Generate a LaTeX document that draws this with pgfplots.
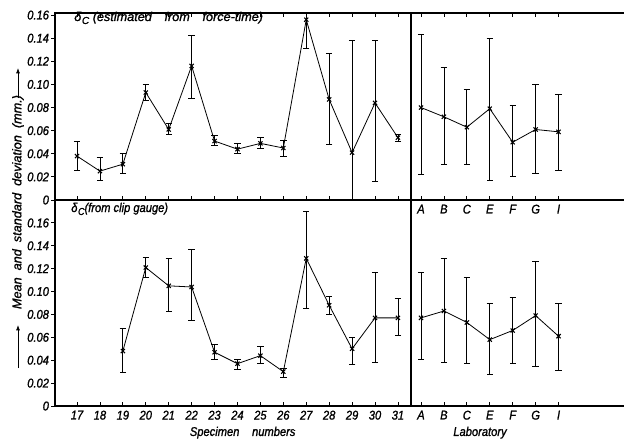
\documentclass[border=0pt]{standalone}
\usepackage{fontspec}
\setmainfont{Liberation Sans}[FakeStretch=0.88, FakeBold=1.2]
\newfontfamily\wide{Liberation Sans}[FakeBold=1.2]
\usepackage{pgfplots}
\pgfplotsset{compat=1.18}
\usepackage{pgfplotstable}
\usetikzlibrary{arrows.meta}

% columns: x, mean, error up, error down (mm)
\pgfplotstableread{
x y ep em
17 0.038 0.013 0.012
18 0.025 0.012 0.008
19 0.031 0.009 0.008
20 0.093 0.007 0.007
21 0.061 0.005 0.004
22 0.116 0.026 0.028
23 0.051 0.005 0.004
24 0.044 0.005 0.004
25 0.049 0.005 0.004
26 0.045 0.007 0.007
27 0.156 0.025 0.025
28 0.087 0.040 0.039
29 0.041 0.097 0.097
30 0.084 0.054 0.068
31 0.054 0.003 0.003
}\forcespec
\pgfplotstableread{
x y ep em
0 0.080 0.063 0.058
1 0.072 0.043 0.041
2 0.063 0.033 0.032
3 0.079 0.061 0.062
4 0.050 0.032 0.030
5 0.061 0.039 0.038
6 0.059 0.032 0.033
}\forcelab
\pgfplotstableread{
x y ep em
19 0.048 0.020 0.019
20 0.121 0.009 0.009
21 0.105 0.024 0.022
22 0.104 0.033 0.029
23 0.047 0.007 0.006
24 0.037 0.004 0.005
25 0.044 0.008 0.007
26 0.030 0.003 0.005
27 0.129 0.041 0.044
28 0.088 0.008 0.008
29 0.050 0.010 0.014
30 0.077 0.040 0.039
31 0.077 0.017 0.015
}\clipspec
\pgfplotstableread{
x y ep em
0 0.077 0.040 0.036
1 0.083 0.046 0.045
2 0.073 0.039 0.036
3 0.058 0.032 0.030
4 0.066 0.029 0.029
5 0.079 0.047 0.044
6 0.061 0.029 0.030
}\cliplab

\newcommand{\lbl}{\itshape\fontsize{9.5}{10}\selectfont}
\newcommand{\dc}{δ\kern0.5pt\raisebox{-2.2pt}{\fontsize{7.5}{8}\selectfont C}}

\pgfplotsset{
  panel/.style={
    scale only axis, anchor=south west, ymin=0,
    axis line style={line width=0.9pt},
    tick align=inside, major tick length=3pt,
    tick style={black, line width=0.6pt},
    ticklabel style={font=\lbl},
    scaled ticks=false,
  },
  leftp/.style={panel, width=267pt, xmin=16.04, xmax=31.57,
    xtick={17,...,31},
    ytick={0,0.02,0.04,0.06,0.08,0.10,0.12,0.14,0.16},
    yticklabels={0,0.02,0.04,0.06,0.08,0.10,0.12,0.14,0.16},
    ytick pos=left, ytick style={xshift=-3pt},
    yticklabel style={xshift=-1pt}},
  rightp/.style={panel, width=225pt, xmin=-0.436, xmax=12.65,
    xtick={0,...,6}, xticklabels={A,B,C,E,F,G,I}, ytick=\empty},
  ser/.style={black, line width=0.6pt, mark=x, mark size=2.2pt,
    mark options={line width=0.8pt},
    error bars/.cd, y dir=both, y explicit,
    error bar style={line width=0.6pt},
    error mark options={rotate=90, mark size=2.4pt, line width=0.6pt}},
}

\begin{document}
\begin{tikzpicture}
\useasboundingbox (0pt,0pt) rectangle (468pt,-329.25pt);

% top left: estimated from force-time
\begin{axis}[leftp, at={(41.25pt,-150pt)}, height=140.25pt, ymax=0.1618,
  xtick pos=both, xticklabels={}]
\addplot[ser] table[x=x, y=y, y error plus=ep, y error minus=em] {\forcespec};
\end{axis}

% top right
\begin{axis}[rightp, at={(308.25pt,-150pt)}, height=140.25pt, ymax=0.1618,
  xtick pos=both]
\addplot[ser] table[x=x, y=y, y error plus=ep, y error minus=em] {\forcelab};
\end{axis}

% bottom left: clip gauge
\begin{axis}[leftp, at={(41.25pt,-304.5pt)}, height=154.5pt, ymax=0.180,
  xtick pos=bottom,
  xticklabels={17,18,19,20,21,22,23,24,25,26,27,28,29,30,31}]
\addplot[ser] table[x=x, y=y, y error plus=ep, y error minus=em] {\clipspec};
\end{axis}

% bottom right
\begin{axis}[rightp, at={(308.25pt,-304.5pt)}, height=154.5pt, ymax=0.180,
  xtick pos=bottom]
\addplot[ser] table[x=x, y=y, y error plus=ep, y error minus=em] {\cliplab};
\end{axis}

\node[anchor=base west, inner sep=0pt, font=\wide\lbl] at (55.5pt,-15.75pt)
  {\dc\ (estimated\quad from\quad force-time)};
\node[anchor=base west, inner sep=0pt, font=\lbl] at (53.25pt,-159pt)
  {\dc(from\ clip\ gauge)};
\node[font=\lbl] at (182pt,-324.5pt) {Specimen\quad numbers};
\node[font=\lbl] at (360pt,-324.5pt) {Laboratory};
\node[font=\wide\lbl, rotate=90] at (13.5pt,-151.5pt)
  {Mean\ \ and\ \ standard\ \ deviation\ \ (mm.)};
\draw[line width=0.6pt, -{Latex[length=4pt,width=3pt]}] (13.5pt,-73.5pt) -- (13.5pt,-51pt);
\draw[line width=0.6pt, -{Latex[length=4pt,width=3pt]}] (13.5pt,-276pt) -- (13.5pt,-243.75pt);
\end{tikzpicture}
\end{document}
